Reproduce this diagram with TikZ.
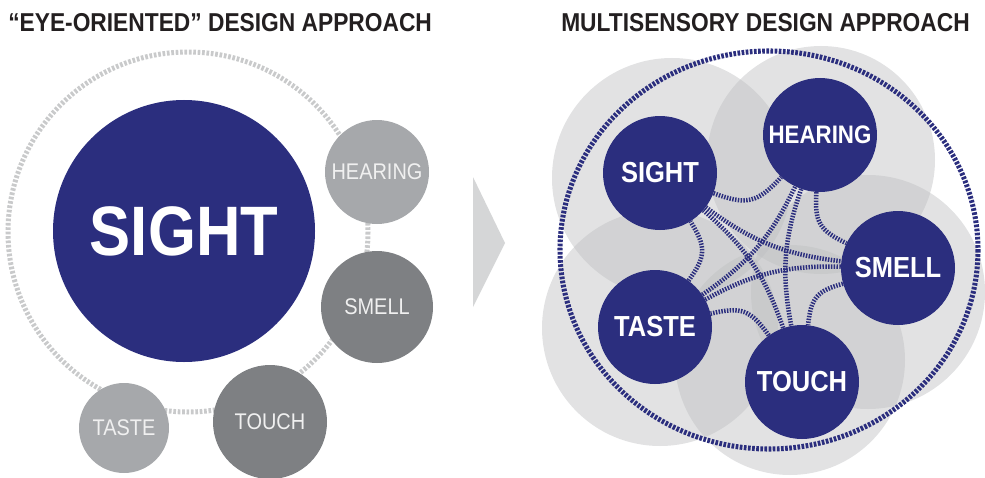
\documentclass[tikz,border=0pt]{standalone}
\usepackage{fontspec}
\setmainfont{Liberation Sans}[FakeStretch=0.88]
\definecolor{senseblue}{RGB}{43,46,126}
\definecolor{lightsense}{RGB}{166,168,171}
\definecolor{darksense}{RGB}{126,128,131}
\definecolor{ringgray}{RGB}{201,202,203}
\definecolor{cloudgray}{RGB}{190,191,193}
\definecolor{titleink}{RGB}{35,31,32}
\definecolor{chevrongray}{RGB}{213,214,215}
\tikzset{
  headline/.style={anchor=west, inner sep=0pt, text=titleink, font=\bfseries\fontsize{19.4}{21}\selectfont},
  oldsense/.style={circle, inner sep=0pt, text=white!94!black, font=\fontsize{17}{18}\selectfont},
  sense/.style={circle, inner sep=0pt, fill=senseblue, text=white, minimum size=85.5pt, font=\bfseries\fontsize{21.75}{22}\selectfont},
  link/.style={senseblue, line width=3.4pt, dash pattern=on 1.1pt off 1pt},
  cloud/.style={fill=cloudgray, fill opacity=0.45}
}
\begin{document}
\begin{tikzpicture}[x=0.75pt,y=0.75pt,yscale=-1,xscale=1]
\useasboundingbox (0,0) rectangle (985,478);

% Text Node
\node [headline] (lefttitle) at (8,23) {“EYE-ORIENTED” DESIGN APPROACH};
% Text Node
\node [headline] (righttitle) at (561,23) {MULTISENSORY DESIGN APPROACH};

%Shape: Circle  dotted ring, left
\draw [ringgray, line width=3.75pt, dash pattern=on 2pt off 1.3pt] (188,232) circle [radius=180];
%Shape: Circle
\node [oldsense, fill=senseblue, minimum size=196.5pt, text=white, font=\bfseries\fontsize{52.5}{54}\selectfont] (bigsight) at (184,231) {SIGHT};
\node [oldsense, fill=lightsense, minimum size=78pt] (oldhearing) at (377,172) {HEARING};
\node [oldsense, fill=darksense, minimum size=84pt] (oldsmell) at (377,307) {SMELL};
\node [oldsense, fill=darksense, minimum size=85.5pt] (oldtouch) at (270,422) {TOUCH};
\node [oldsense, fill=lightsense, minimum size=67.5pt] (oldtaste) at (124,428) {TASTE};

%Shape: Triangle
\fill [chevrongray] (473,177) -- (505,243) -- (473,307) -- cycle;

%Shape: Circle  grey clouds, right
\fill [cloud] (672,178) circle [radius=120];
\fill [cloud] (821,160) circle [radius=114];
\fill [cloud] (868,292) circle [radius=117];
\fill [cloud] (660,328) circle [radius=118];
\fill [cloud] (790,360) circle [radius=115];
%Shape: Ellipse  dotted ring, right
\draw [senseblue, line width=3.8pt, dash pattern=on 2pt off 1.1pt] (769,250) ellipse [x radius=209, y radius=199];

\node [sense] (sight) at (660,173) {SIGHT};
\node [sense, font=\bfseries\fontsize{19}{20}\selectfont] (hearing) at (820,135) {HEARING};
\node [sense] (smell) at (898,268) {SMELL};
\node [sense] (touch) at (802,382) {TOUCH};
\node [sense] (taste) at (655,327) {TASTE};

% links
\foreach \a/\b in {sight/hearing, hearing/smell, smell/touch, touch/taste, taste/sight}
  \draw [link] (\a) to [bend left=34, looseness=1.3] (\b);
\foreach \a/\b in {sight/smell, hearing/touch, smell/taste, touch/sight, taste/hearing}
  \draw [link] (\a) to [bend left=15] (\b);
\end{tikzpicture}
\end{document}
